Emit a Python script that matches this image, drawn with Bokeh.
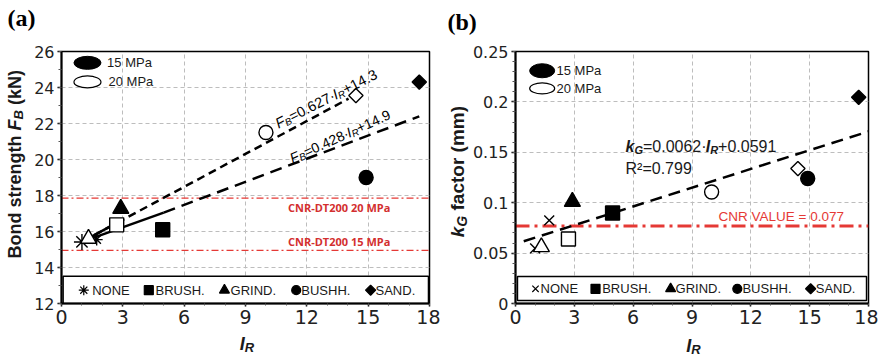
import math
from bokeh.plotting import figure
from bokeh.models import Range1d, SingleIntervalTicker, Label, CustomJSTickFormatter
from bokeh.core.properties import value
from bokeh.layouts import row
from bokeh.embed import file_html
from bokeh.resources import INLINE

# ---------------- data ----------------
treatments = ["NONE", "BRUSH.", "GRIND.", "BUSHH.", "SAND."]
markers_a = ["asterisk", "square", "triangle", "circle", "diamond"]
markers_b = ["x", "square", "triangle", "circle", "diamond"]

IR_15 = [1.0, 4.95, 2.9, 14.9, 17.5]
IR_20 = [1.72, 2.7, 1.32, 10.0, 14.4]
FB_15 = [15.42, 16.1, 17.27, 19.0, 24.3]
FB_20 = [15.55, 16.37, 15.6, 21.5, 23.55]
KG_15 = [0.0547, 0.0898, 0.101, 0.124, 0.2045]
KG_20 = [0.0825, 0.064, 0.056, 0.1106, 0.1339]

# trend lines of panel (a) (end points)
FB_UP_SOLID_X = [1.0, 3.04]
FB_UP_SOLID_Y = [15.42, 16.69]
FB_UP_DASH_X = [1.6, 14.04]
FB_UP_DASH_Y = [15.8, 23.38]
FB_LO_SOLID_X = [1.0, 5.0]
FB_LO_SOLID_Y = [15.42, 17.05]
FB_LO_DASH_X = [5.0, 17.5]
FB_LO_DASH_Y = [17.05, 22.4]
# regression of panel (b)
KG_FIT_X = [0.42, 18.0]
KG_FIT_Y = [0.0617, 0.1707]

CNR_FB_20 = 17.85
CNR_FB_15 = 14.95
CNR_KG = 0.077

# ---------------- text helpers (Arial / Liberation Sans metrics) ----------------
REG = {' ': 278, '(': 333, ')': 333, '+': 584, '=': 584, '.': 278, '\u00b7': 278, '-': 333,
       '\u00b2': 333, 'A': 667, 'B': 667, 'C': 722, 'D': 722, 'E': 667, 'F': 611, 'G': 778,
       'H': 722, 'I': 278, 'L': 556, 'M': 833, 'N': 722, 'O': 778, 'P': 667, 'R': 722,
       'S': 667, 'T': 611, 'U': 722, 'V': 667, 'a': 556, 'c': 500, 'd': 556, 'e': 556,
       'f': 278, 'g': 556, 'h': 556, 'k': 500, 'm': 833, 'n': 556, 'o': 556, 'r': 333,
       's': 500, 't': 278}
BOLD = {' ': 278, '(': 333, ')': 333, '+': 584, '=': 584, '.': 278, '\u00b7': 278,
        'B': 722, 'F': 611, 'G': 778, 'I': 278, 'N': 722, 'R': 722, 'k': 556,
        'a': 556, 'c': 556, 'd': 611, 'e': 556, 'f': 333, 'g': 611, 'h': 611, 'm': 889,
        'n': 611, 'o': 611, 'r': 389, 's': 556, 't': 333}


def text_width(txt, size, bold):
    tab = BOLD if bold else REG
    return sum(tab.get(c, 556) for c in txt) * size / 1000.0


def rich(p, parts, x, y, angle_deg=0, ox=0.0, oy=0.0, color="black", font="Liberation Sans"):
    """Runs of text (with sub-scripts) anchored at a data point plus a pixel offset.
    Drawn as text glyphs on the overlay level so that they are not clipped to the frame."""
    a = math.radians(angle_deg)
    adv = 0.0
    for txt, size, bold, italic, shift in parts:
        lead = len(txt) - len(txt.lstrip(" "))
        adv += text_width(" " * lead, size, bold)
        body = txt.lstrip(" ")
        dx = ox + adv * math.cos(a) - shift * math.sin(a)
        dy = oy + adv * math.sin(a) + shift * math.cos(a)
        style = ("bold " if bold else "") + ("italic" if italic else "")
        style = style.strip() or "normal"
        p.text(x=[x], y=[y], text=[body], x_offset=dx, y_offset=-dy, angle=a,
               text_font=value(font), text_font_size=value(f"{size}px"),
               text_font_style=style, text_align="left", text_baseline="alphabetic",
               text_color=color, level="overlay")
        adv += text_width(body, size, bold)


def style_fig(p, xtick_size, ytick_size):
    p.background_fill_color = "white"
    p.border_fill_color = "white"
    p.outline_line_color = "black"
    p.outline_line_width = 1.5
    p.outline_line_alpha = 1.0
    for ax in p.axis:
        ax.axis_line_color = "black"
        ax.axis_line_width = 2
        ax.major_tick_line_color = "black"
        ax.minor_tick_line_color = "#555555"
        ax.major_tick_line_width = 1.5
        ax.minor_tick_line_width = 1
        ax.major_tick_in = 0
        ax.minor_tick_in = 0
        ax.major_label_text_font = "DejaVu Sans"
        ax.major_label_text_color = "#222222"
    p.xaxis.major_label_text_font_size = xtick_size
    p.yaxis.major_label_text_font_size = ytick_size
    p.xaxis.major_tick_out = 3
    p.xaxis.minor_tick_out = 2
    p.yaxis.major_tick_out = 4
    p.yaxis.minor_tick_out = 3
    p.xaxis.major_label_standoff = 3
    p.yaxis.major_label_standoff = 3
    p.grid.grid_line_color = "#bdbdbd"
    p.grid.grid_line_dash = "4 3"
    p.grid.grid_line_width = 1


def draw_marker(p, x, y, marker, filled, size, lw=1.4):
    kw = dict(line_color="black", line_width=lw,
              fill_color="black" if filled else "white")
    if marker == "diamond":
        p.scatter(x, y, marker="square", angle=math.pi / 4, size=size * 0.72, **kw)
    else:
        p.scatter(x, y, marker=marker, size=size, **kw)


MSIZE = {"asterisk": 16, "x": 14, "square": 14, "triangle": 16, "circle": 14, "diamond": 14}
TXT = "#1a1a1a"

# ======================= panel (a) =======================
pa = figure(width=440, height=356, x_range=Range1d(0, 18), y_range=Range1d(12, 26),
            output_backend="svg", toolbar_location=None,
            min_border_left=61, min_border_right=11, min_border_top=40, min_border_bottom=51)
pa.xaxis.ticker = SingleIntervalTicker(interval=3, num_minor_ticks=3)
pa.yaxis.ticker = SingleIntervalTicker(interval=2, num_minor_ticks=2)
style_fig(pa, "19px", "16px")

# CNR reference lines
pa.line([0, 18], [CNR_FB_20, CNR_FB_20], line_color="#e53935", line_width=1.2, line_dash="7 3 2 3")
pa.line([0, 18], [CNR_FB_15, CNR_FB_15], line_color="#e53935", line_width=1.2, line_dash="7 3 2 3")
pa.add_layout(Label(x=13.58, y=CNR_FB_20 - 0.49, text="CNR-DT200 20 MPa", text_font="Open Sans",
                    text_font_style="bold", text_font_size="11px", text_color="#d32f2f",
                    text_align="center", text_baseline="middle"))
pa.add_layout(Label(x=13.58, y=CNR_FB_15 + 0.47, text="CNR-DT200 15 MPa", text_font="Open Sans",
                    text_font_style="bold", text_font_size="11px", text_color="#d32f2f",
                    text_align="center", text_baseline="middle"))

# trend lines
pa.line(FB_UP_SOLID_X, FB_UP_SOLID_Y, line_color="black", line_width=2.5)
pa.line(FB_LO_SOLID_X, FB_LO_SOLID_Y, line_color="black", line_width=2.5)
pa.line(FB_UP_DASH_X, FB_UP_DASH_Y, line_color="black", line_width=2.5, line_dash="8 5")
pa.line(FB_LO_DASH_X, FB_LO_DASH_Y, line_color="black", line_width=2.5, line_dash="12 7")

# data points
for i, m in enumerate(markers_a):
    draw_marker(pa, [IR_20[i]], [FB_20[i]], m, False, MSIZE[m] if i else 12)
    draw_marker(pa, [IR_15[i]], [FB_15[i]], m, True, MSIZE[m])

# equations
rich(pa, [("F", 14.5, False, True, 0), ("B", 10, False, True, -3), ("=0.627\u00b7", 14.5, False, False, 0),
          ("I", 14.5, False, True, 0), ("R", 10, False, True, -3), ("+14.3", 14.5, False, False, 0)],
     10.5, 21.95, 27)
rich(pa, [("F", 14, False, True, 0), ("B", 10, False, True, -3), ("=0.428\u00b7", 14, False, False, 0),
          ("I", 14, False, True, 0), ("R", 10, False, True, -3), ("+14.9", 14, False, False, 0)],
     11.2, 20.03, 24.5)

# pressure legend (top-left)
pa.ellipse([1.27], [25.37], width=27, height=13, width_units="screen", height_units="screen",
           fill_color="black", line_color="black")
pa.ellipse([1.27], [24.31], width=27, height=12, width_units="screen", height_units="screen",
           fill_color="white", line_color="black", line_width=1.2)
pa.add_layout(Label(x=2.23, y=25.37, text="15 MPa", text_font="Liberation Sans", text_font_size="13px",
                    text_baseline="middle", text_color=TXT))
pa.add_layout(Label(x=2.3, y=24.31, text="20 MPa", text_font="Liberation Sans", text_font_size="13px",
                    text_baseline="middle", text_color=TXT))

# treatment legend (bottom box)
pa.quad(left=[0.08], right=[17.95], bottom=[12.0], top=[13.52], fill_color="white",
        line_color="black", line_width=1.5)
LEG_A_MX = [1.09, 4.27, 7.97, 11.48, 15.12]
LEG_A_TX = [1.5, 4.6, 8.27, 11.73, 15.36]
for i, m in enumerate(markers_a):
    draw_marker(pa, [LEG_A_MX[i]], [12.74], m, True, {"asterisk": 10, "square": 9, "triangle": 10,
                                                       "circle": 9, "diamond": 10}[m], lw=1.2)
    pa.add_layout(Label(x=LEG_A_TX[i], y=12.74, text=treatments[i], text_font="Liberation Sans",
                        text_font_size="13px", text_baseline="middle", text_color=TXT))

# axis titles / panel letter (anchored at the frame's lower-left corner, offset in pixels)
rich(pa, [("Bond strength ", 18, True, False, 0), ("F", 18, True, True, 0), ("B", 13, True, True, -4),
          (" (kN)", 18, True, False, 0)], 0, 12, 90, ox=-47, oy=45, color=TXT)
rich(pa, [("I", 18, True, True, 0), ("R", 13, True, True, -4)], 0, 12, 0, ox=178.3, oy=-40,
     color=TXT)
rich(pa, [("(a)", 24, True, False, 0)], 0, 12, 0, ox=-54, oy=286, color="black",
     font="Liberation Serif")

# ======================= panel (b) =======================
pb = figure(width=438, height=356, x_range=Range1d(0, 18), y_range=Range1d(0, 0.25),
            output_backend="svg", toolbar_location=None,
            min_border_left=75, min_border_right=10, min_border_top=51, min_border_bottom=53)
pb.xaxis.ticker = SingleIntervalTicker(interval=3, num_minor_ticks=3)
pb.yaxis.ticker = SingleIntervalTicker(interval=0.05, num_minor_ticks=5)
pb.yaxis.formatter = CustomJSTickFormatter(code="return Number(tick.toFixed(2)).toString();")
style_fig(pb, "19px", "16px")

pb.line([0, 18], [CNR_KG, CNR_KG], line_color="#e53935", line_width=3, line_dash="14 5 3 5")
pb.add_layout(Label(x=13.55, y=0.0868, text="CNR VALUE = 0.077", text_font="Liberation Sans",
                    text_font_size="13.5px", text_color="#e53935", text_align="center",
                    text_baseline="middle"))
pb.line(KG_FIT_X, KG_FIT_Y, line_color="black", line_width=2.5, line_dash="12 7")

for i, m in enumerate(markers_b):
    draw_marker(pb, [IR_20[i]], [KG_20[i]], m, False, MSIZE[m])
    draw_marker(pb, [IR_15[i]], [KG_15[i]], m, True, MSIZE[m])

rich(pb, [("k", 16, True, True, 0), ("G", 11, True, True, -4), ("=0.0062\u00b7", 16, False, False, 0),
          ("I", 16, True, True, 0), ("R", 11, True, True, -4), ("+0.0591", 16, False, False, 0)],
     5.61, 0.156, 0, color=TXT)
pb.add_layout(Label(x=5.61, y=0.1339, text="R\u00b2=0.799", text_font="Liberation Sans",
                    text_font_size="16px", text_baseline="alphabetic", text_color=TXT))

pb.ellipse([1.36], [0.2309], width=25, height=14, width_units="screen", height_units="screen",
           fill_color="black", line_color="black")
pb.ellipse([1.36], [0.2134], width=25, height=11, width_units="screen", height_units="screen",
           fill_color="white", line_color="black", line_width=1.2)
pb.add_layout(Label(x=2.09, y=0.2309, text="15 MPa", text_font="Liberation Sans", text_font_size="13px",
                    text_baseline="middle", text_color=TXT))
pb.add_layout(Label(x=2.09, y=0.2134, text="20 MPa", text_font="Liberation Sans", text_font_size="13px",
                    text_baseline="middle", text_color=TXT))

pb.quad(left=[0.1], right=[17.9], bottom=[0.003], top=[0.0268], fill_color="white",
        line_color="black", line_width=1.5)
LEG_B_MX = [1.02, 4.08, 7.91, 11.31, 15.05]
LEG_B_TX = [1.28, 4.42, 8.16, 11.57, 15.31]
for i, m in enumerate(markers_b):
    draw_marker(pb, [LEG_B_MX[i]], [0.0146], m, True, {"x": 9, "square": 9, "triangle": 10,
                                                        "circle": 9, "diamond": 10}[m], lw=1.2)
    pb.add_layout(Label(x=LEG_B_TX[i], y=0.0146, text=treatments[i], text_font="Liberation Sans",
                        text_font_size="13px", text_baseline="middle", text_color=TXT))

rich(pb, [("k", 19, True, True, 0), ("G", 14, True, True, -4), (" factor (mm)", 19, True, False, 0)],
     0, 0, 90, ox=-58, oy=66.3, color=TXT)
rich(pb, [("I", 18, True, True, 0), ("R", 13, True, True, -4)], 0, 0, 0, ox=170.7, oy=-42,
     color=TXT)
rich(pb, [("(b)", 24, True, False, 0)], 0, 0, 0, ox=-68, oy=282, color="black",
     font="Liberation Serif")

layout = row(pa, pb)
open("out.html", "w").write(file_html(layout, INLINE))
